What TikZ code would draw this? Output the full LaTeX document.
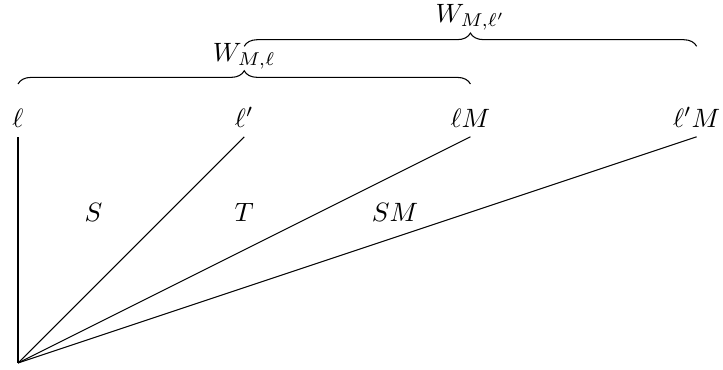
\documentclass[tikz,border=0pt]{standalone}
\usetikzlibrary{decorations.pathreplacing}
\tikzset{wbrace/.style={decorate,decoration={brace,amplitude=5pt}}}
\begin{document}
\begin{tikzpicture}[x=1cm,y=1cm]
			\useasboundingbox (-0.239,-0.08) rectangle (9.35,4.814);
			\coordinate (O) at (0,0) ;
			
			\coordinate (L) at (0,3) ;
			\draw (L) node[above]{$\ell$};
			\draw (O)--(L);
			
			\coordinate (Lp) at (3,3) ;
			\draw (Lp) node[above]{$\ell'$};
			\draw (O)--(Lp);
			
			\coordinate (LM) at (6,3) ;
			\draw (LM) node[above]{$\ell M$};
			\draw (O)--(LM);
			
			\coordinate (LpM) at (9,3) ;
			\draw (LpM) node[above]{$\ell' M$};
			\draw (O)--(LpM);
			
			\node (S) at (1,2) {$S$};
			\node (T) at (3,2) {$T$};
			\node (SM) at (5,2) {$SM$};
			
			\coordinate (A1) at (0,3.7) ;
			\coordinate (B1) at (6,3.7) ;
			\draw[wbrace] (A1)--(B1);
			\node[anchor=base] (WL) at (3,4) {$W_{M,\ell}$};
			
			\coordinate (A2) at (3,4.2) ;
			\coordinate (B2) at (9,4.2) ;
			\draw[wbrace] (A2)--(B2);
			\node[anchor=base] (WLp) at (6,4.52) {$W_{M,\ell'}$};
		\end{tikzpicture}
\end{document}
